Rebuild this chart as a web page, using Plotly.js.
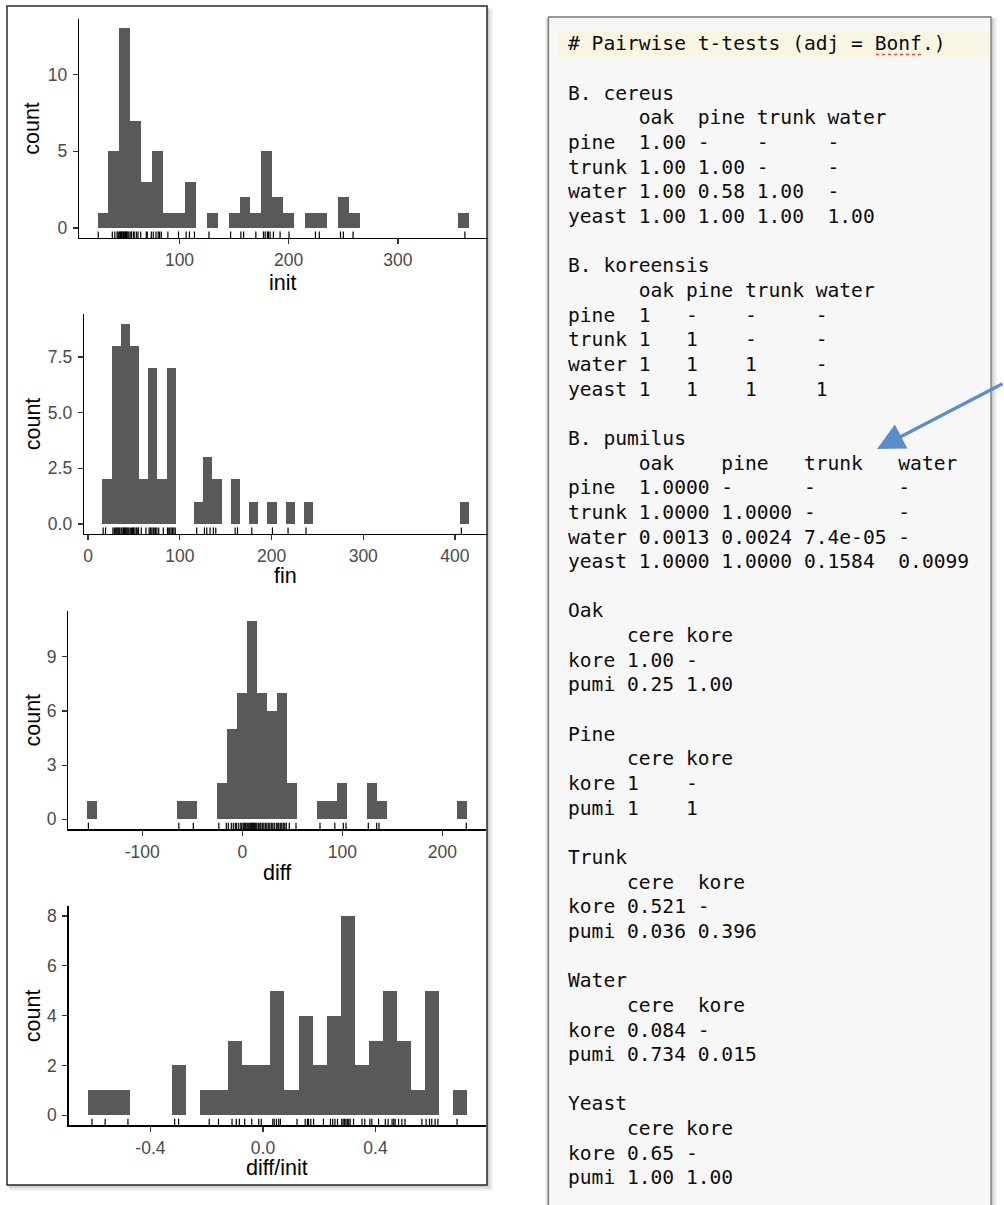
<!DOCTYPE html>
<html>
<head>
<meta charset="utf-8">
<script src="https://cdn.plot.ly/plotly-3.0.1.min.js"></script>
<style>html,body{margin:0;padding:0;background:#fff;}#chart{width:1004px;height:1205px;}</style>
</head>
<body>
<div id="chart"></div>
<script>
// ---------------- data ----------------
const initVals = [25.6, 38.5, 40.8, 42.9, 43.8, 44.7,
  45.5, 46.2, 46.9, 47.5, 48.4, 48.9, 49.9, 50.3, 50.8, 51.4, 52.0, 52.9, 53.8,
  55.5, 56.0, 57.8, 58.5, 60.5, 62.0, 64.5,
  69.6, 70.5, 74.2,
  76.0, 78.5, 80.5, 81.8, 83.3,
  89.4, 99.1, 106.1, 109.1, 113.7,
  127.0, 146.8, 156.2, 158.7, 169.9,
  176.9, 178.4, 180.5, 181.5, 183.0, 186.0, 192.1, 200.3,
  224.5, 228.0, 247.4, 250.0, 258.9, 361.3];
const finVals = [16.4, 19.0,
  27, 28.5, 29.5, 30.5, 31.5, 32.5, 33.5, 34.5,
  36, 37, 38.5, 39.5, 40.5, 41.5, 42.5, 43.5, 44.5,
  46, 47.5, 48.5, 49.5, 51, 52.5, 53.5, 55,
  58, 63,
  66.5, 68, 69.5, 71, 72, 73.5, 75,
  77, 82,
  86.5, 88, 89, 90.5, 92, 93.5, 95,
  118.4, 126.8, 129.4, 133, 136.6, 139.2, 160.3, 162.9,
  178.5, 201, 218, 237.6, 407];
const diffVals = [-153.9, -63.5, -49,
  -23.5, -16, -14, -11, -9, -7, -5.6,
  -3.5, -1.5, -0.5, 1, 2, 3, 4.5,
  5.5, 6.5, 7.5, 8.5, 9, 10, 11, 12, 12.5, 13.5, 14.5,
  16, 17.5, 18.5, 20, 21.5, 23, 24.5,
  26, 27.5, 29, 30.5, 32, 34,
  35.5, 36.5, 38, 39.5, 41, 42.5, 44,
  47, 53.7, 77.7, 92.5, 101, 103.7, 126, 134.4, 136.7, 224];
const ratioVals = [-0.608, -0.561, -0.480, -0.314, -0.300,
  -0.191, -0.158, -0.110, -0.095, -0.084, -0.065, -0.040, -0.015, -0.006,
  0.035, 0.040, 0.048, 0.056, 0.062, 0.121,
  0.150, 0.158, 0.162, 0.170, 0.180, 0.215,
  0.240, 0.248, 0.256, 0.265,
  0.280, 0.285, 0.290, 0.295, 0.300, 0.305, 0.310, 0.322,
  0.352, 0.362, 0.380, 0.387, 0.411,
  0.435, 0.445, 0.459, 0.465, 0.470,
  0.482, 0.494, 0.505, 0.565,
  0.580, 0.592, 0.600, 0.612, 0.622, 0.690];

const varNames = ["init", "fin", "diff", "diff/init"];
const binStart = [25, 15.5, -155, -0.6235];
const binSize  = [10, 10, 10, 0.05];

const xTickVals = [[100, 200, 300], [0, 100, 200, 300, 400], [-100, 0, 100, 200], [-0.4, 0, 0.4]];
const xTickText = [["100", "200", "300"], ["0", "100", "200", "300", "400"], ["-100", "0", "100", "200"], ["-0.4", "0.0", "0.4"]];
const yTickVals = [[0, 5, 10], [0, 2.5, 5, 7.5], [0, 3, 6, 9], [0, 2, 4, 6, 8]];
const yTickText = [["0", "5", "10"], ["0.0", "2.5", "5.0", "7.5"], ["0", "3", "6", "9"], ["0", "2", "4", "6", "8"]];
const yTitle = "count";

const textLines = [
"# Pairwise t-tests (adj = Bonf.)",
"",
"B. cereus",
"      oak  pine trunk water",
"pine  1.00 -    -     -",
"trunk 1.00 1.00 -     -",
"water 1.00 0.58 1.00  -",
"yeast 1.00 1.00 1.00  1.00",
"",
"B. koreensis",
"      oak pine trunk water",
"pine  1   -    -     -",
"trunk 1   1    -     -",
"water 1   1    1     -",
"yeast 1   1    1     1",
"",
"B. pumilus",
"      oak    pine   trunk   water",
"pine  1.0000 -      -       -",
"trunk 1.0000 1.0000 -       -",
"water 0.0013 0.0024 7.4e-05 -",
"yeast 1.0000 1.0000 0.1584  0.0099",
"",
"Oak",
"     cere kore",
"kore 1.00 -",
"pumi 0.25 1.00",
"",
"Pine",
"     cere kore",
"kore 1    -",
"pumi 1    1",
"",
"Trunk",
"     cere  kore",
"kore 0.521 -",
"pumi 0.036 0.396",
"",
"Water",
"     cere  kore",
"kore 0.084 -",
"pumi 0.734 0.015",
"",
"Yeast",
"     cere kore",
"kore 0.65 -",
"pumi 1.00 1.00"
];

// ---------------- layout helpers ----------------
const W = 1004, H = 1205;
const fx = p => p / W;
const fy = p => 1 - p / H;
const allVals = [initVals, finVals, diffVals, ratioVals];

// panel boxes in pixels [left, right, top, bottom]
const panelPx = [
  [79, 487.5, 18.5, 238],
  [84, 487.5, 313.5, 534],
  [68.3, 486.3, 610.7, 829.3],
  [68.6, 486.3, 906, 1125.3]
];
const xTitleY = [282.5, 576, 872.5, 1168];

function binInfo(vals, start, size) {
  const idx = vals.map(v => Math.floor((v - start) / size));
  const lo = Math.min(...idx), hi = Math.max(...idx);
  const counts = {};
  idx.forEach(i => counts[i] = (counts[i] || 0) + 1);
  const maxC = Math.max(...Object.values(counts));
  return {lo: start + lo * size, hi: start + (hi + 1) * size, maxC: maxC, n: hi + 1};
}

const tickFont = {family: "Liberation Sans, Arial, sans-serif", size: 17.5, color: "#4a4a4a"};
const titleFont = {family: "Liberation Sans, Arial, sans-serif", size: 21.5, color: "#000"};

const traces = [];
const layout = {
  width: W, height: H,
  margin: {l: 0, r: 0, t: 0, b: 0},
  paper_bgcolor: "#ffffff",
  plot_bgcolor: "rgba(0,0,0,0)",
  showlegend: false,
  bargap: 0,
  shapes: [],
  annotations: []
};

// background boxes + shadows
function rect(x0, y0, x1, y1, fill, line, lw) {
  return {type: "rect", xref: "paper", yref: "paper", layer: "below",
    x0: fx(x0), x1: fx(x1), y0: fy(y1), y1: fy(y0),
    fillcolor: fill, line: {color: line || "rgba(0,0,0,0)", width: lw || 0}};
}
[[6, 0.05], [4, 0.07], [2, 0.09]].forEach(([o, a]) => {
  layout.shapes.push(rect(7 + o * 0.5, 6 + o * 0.5, 487 + o, 1185 + o, "rgba(0,0,0," + a + ")"));
  layout.shapes.push(rect(548 - o * 0.5, 17 + o * 0.2, 991 + o, 1215, "rgba(0,0,0," + a + ")"));
});
layout.shapes.push(rect(7, 6, 487, 1185, "#ffffff", "#2a2a2a", 1.5));
layout.shapes.push(rect(548.5, 17, 991, 1215, "#f7f7f7", "#777777", 1.3));
layout.shapes.push(rect(558, 31, 990, 57, "#f8f6e2"));
layout.shapes.push({type: "line", xref: "paper", yref: "paper", layer: "above",
  x0: fx(876), x1: fx(923), y0: fy(54.5), y1: fy(54.5),
  line: {color: "#e0504a", width: 1.6, dash: "dot"}});

allVals.forEach((vals, i) => {
  const k = i === 0 ? "" : String(i + 1);
  const info = binInfo(vals, binStart[i], binSize[i]);
  const span = info.hi - info.lo;
  const xr = [info.lo - 0.05 * span, info.hi + 0.05 * span];
  const yr = [-0.05 * info.maxC, 1.05 * info.maxC];
  const p = panelPx[i];
  const plotH = p[3] - p[2];

  traces.push({
    type: "histogram", x: vals, xaxis: "x" + k, yaxis: "y" + k,
    xbins: {start: binStart[i], end: binStart[i] + (info.n + 1) * binSize[i], size: binSize[i]},
    marker: {color: "#595959", line: {width: 0}},
    hoverinfo: "skip"
  });
  const rugY = yr[0] + 0.015 * (yr[1] - yr[0]);
  traces.push({
    type: "scatter", mode: "markers", x: vals, y: vals.map(() => rugY),
    xaxis: "x" + k, yaxis: "y" + k, cliponaxis: false,
    marker: {symbol: "line-ns", size: (0.03 * plotH) / 1.4, color: "#000", line: {width: 1.2, color: "#000"}},
    hoverinfo: "skip"
  });

  const common = {
    showline: true, linecolor: "#000", linewidth: 1.3,
    ticks: "outside", ticklen: 5, tickwidth: 1.3, tickcolor: "#333",
    showgrid: false, zeroline: false, automargin: false, fixedrange: true,
    tickfont: tickFont, tickmode: "array"
  };
  layout["xaxis" + k] = Object.assign({}, common, {
    domain: [fx(p[0]), fx(p[1])], anchor: "y" + k, range: xr,
    tickvals: xTickVals[i], ticktext: xTickText[i], ticklabelstandoff: 1
  });
  layout["yaxis" + k] = Object.assign({}, common, {
    domain: [fy(p[3]), fy(p[2])], anchor: "x" + k, range: yr,
    tickvals: yTickVals[i], ticktext: yTickText[i], ticklabelstandoff: 2
  });

  layout.annotations.push({
    xref: "paper", yref: "paper", x: fx((p[0] + p[1]) / 2), y: fy(xTitleY[i]),
    xanchor: "center", yanchor: "middle", showarrow: false,
    text: varNames[i], font: titleFont
  });
  layout.annotations.push({
    xref: "paper", yref: "paper", x: fx(32.5), y: fy((p[2] + p[3]) / 2),
    xanchor: "center", yanchor: "middle", showarrow: false, textangle: -90,
    text: yTitle, font: titleFont
  });
});

// console text
textLines.forEach((ln, i) => {
  if (!ln) return;
  layout.annotations.push({
    xref: "paper", yref: "paper", x: fx(565.5), y: fy(44 + i * 24.65),
    xanchor: "left", yanchor: "middle", showarrow: false,
    text: ln.replace(/ /g, "\u00A0"),
    font: {family: "DejaVu Sans Mono, monospace", size: 19.6, color: "#0c0c0c"}
  });
});

// blue arrow
layout.annotations.push({
  xref: "paper", yref: "paper", x: fx(877), y: fy(449),
  ax: 129, ay: -66, axref: "pixel", ayref: "pixel",
  showarrow: true, arrowhead: 2, arrowsize: 1.7, arrowwidth: 3.2,
  arrowcolor: "#5b8dca", text: "", standoff: 0
});

Plotly.newPlot("chart", traces, layout, {staticPlot: true, displayModeBar: false});
</script>
</body>
</html>
